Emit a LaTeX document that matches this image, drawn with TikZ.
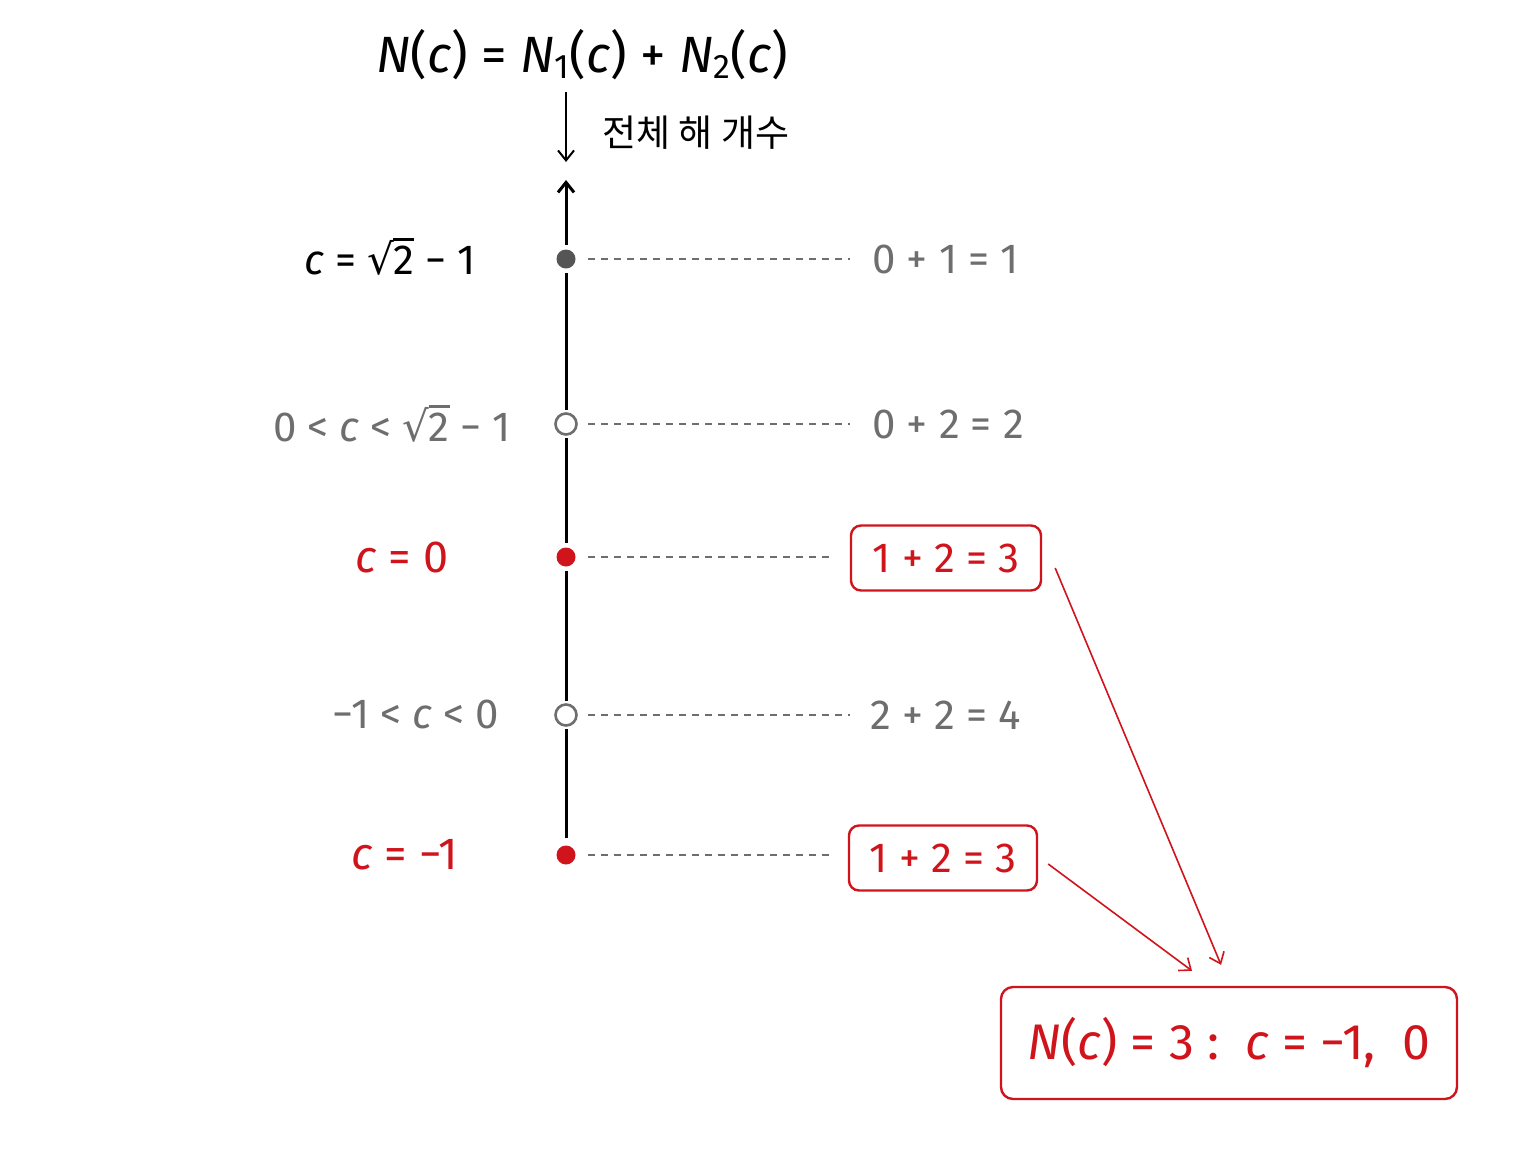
\documentclass[tikz,border=0pt]{standalone}
\usepackage{fontspec}
\setmainfont{Fira Sans}
\newfontfamily\kr{Noto Sans CJK KR}
\newfontfamily\symf{DejaVu Sans}
\usetikzlibrary{arrows.meta,calc}
\definecolor{myred}{HTML}{D0141C}
\definecolor{mygray}{HTML}{6E6E6E}
\definecolor{dotgray}{HTML}{555555}
\newcommand\ci{\textit{c}}
\newcommand\Ni{\textit{N}}
\newcommand\sbs[1]{\raisebox{-0.12em}{\fontsize{17}{17}\selectfont #1}}
\newcommand\rtt[1]{\mbox{{\symf\symbol{"221A}}\kern-0.02em\sbox0{#1}\rlap{\rule[\dimexpr\ht0+0.12em\relax]{\wd0}{0.065em}}\usebox0}}
\tikzset{
  lbl/.style={inner sep=0pt, font=\fontsize{21}{23}\selectfont},
  graylbl/.style={lbl, text=mygray},
  redlbl/.style={lbl, text=myred, font=\fontsize{22.5}{24}\selectfont},
  dashline/.style={mygray, line width=0.75pt, dash pattern=on 3.5pt off 3pt},
  redbox/.style={draw=myred, text=myred, line width=1.2pt, rounded corners=5pt, font=\fontsize{21}{23}\selectfont, minimum height=32.5pt, inner xsep=6pt},
  filldot/.style={circle, inner sep=0pt, minimum size=9.5pt},
  hollowdot/.style={circle, inner sep=0pt, minimum size=10.5pt, draw=mygray, line width=1.3pt, fill=white},
  gapdot/.style={circle, fill=white, inner sep=0pt, minimum size=14pt},
  redarr/.style={myred, line width=0.8pt, -{Straight Barb[length=5pt,width=8pt]}},
}
\begin{document}
\begin{tikzpicture}[x=0.5pt,y=-0.5pt]
\useasboundingbox (0,0) rectangle (1536,1152);
\fill[white] (0,0) rectangle (1536,1152);

% title
\node[inner sep=0pt, font=\fontsize{25.5}{28}\selectfont] (title) at (582,55)
  {\Ni(\ci) = \Ni\sbs{1}(\ci) + \Ni\sbs{2}(\ci)};
\coordinate (dtop) at (566,92);
\coordinate (dbot) at (566,162);
\draw[line width=1pt, -{Straight Barb[length=5pt,width=8pt]}] (dtop) -- (dbot);
\node[anchor=west, inner sep=0pt, font=\kr\fontsize{18.5}{20}\selectfont] (klabel) at (602,133) {전체 해 개수};

% axis
\coordinate (atop) at (566,180);
\coordinate (abot) at (566,838);
\draw[line width=1.5pt, -{Straight Barb[length=5pt,width=8pt]}] (abot) -- (atop);

% gaps
\node[gapdot] at (566,259) {};
\node[gapdot] at (566,424) {};
\node[gapdot] at (566,557) {};
\node[gapdot] at (566,715) {};

% dots
\node[filldot, fill=dotgray] (d1) at (566,259) {};
\node[hollowdot] (d2) at (566,424) {};
\node[filldot, fill=myred] (d3) at (566,557) {};
\node[hollowdot] (d4) at (566,715) {};
\node[filldot, fill=myred] (d5) at (566,855) {};

% left labels
\node[lbl, text=black] (l1) at (390,257) {\ci\ = \rtt{2} − 1};
\node[graylbl] (l2) at (392,424) {0 < \ci\ < \rtt{2} − 1};
\node[redlbl] (l3) at (402,557) {\ci\ = 0};
\node[graylbl] (l4) at (416,714) {−1 < \ci\ < 0};
\node[redlbl] (l5) at (405,855) {\ci\ = −1};

% right labels
\node[graylbl, anchor=west, inner xsep=11pt] (r1) at (850,259) {0 + 1 = 1};
\node[graylbl, anchor=west, inner xsep=11pt] (r2) at (850,424) {0 + 2 = 2};
\node[redbox, minimum width=95pt] (r3) at (946,558) {1 + 2 = 3};
\node[graylbl, anchor=west, inner xsep=10pt] (r4) at (850,715) {2 + 2 = 4};
\node[redbox, minimum width=94pt] (r5) at (943,858) {1 + 2 = 3};

% dashed connectors
\draw[dashline] ([xshift=11pt]d1.center) -- (d1 -| r1.west);
\draw[dashline] ([xshift=11pt]d2.center) -- (d2 -| r2.west);
\draw[dashline] ([xshift=11pt]d3.center) -- ([xshift=-8pt]d3 -| r3.west);
\draw[dashline] ([xshift=11pt]d4.center) -- (d4 -| r4.west);
\draw[dashline] ([xshift=11pt]d5.center) -- ([xshift=-7pt]d5 -| r5.west);

% final box
\node[redbox, minimum width=228pt, minimum height=56pt, rounded corners=6pt, inner xsep=4pt, font=\fontsize{25}{27}\selectfont] (fin) at (1229,1043)
  {\Ni(\ci) = 3 :\ \ \ci\ = −1,\ \ 0};

% red arrows
\draw[redarr] ($(r3.east)+(13,10)$) -- ($(fin.north)+(-8,-21)$);
\draw[redarr] ($(r5.east)+(10,6)$) -- ($(fin.north)+(-37,-15)$);
\end{tikzpicture}
\end{document}
